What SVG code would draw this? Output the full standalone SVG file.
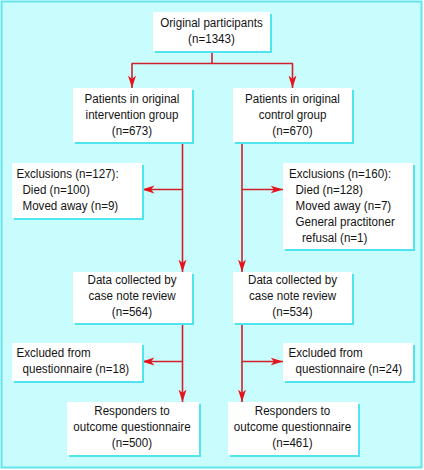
<svg xmlns="http://www.w3.org/2000/svg" width="424" height="470" viewBox="0 0 424 470">
<style>
.bx{fill:#ffffff}
.sh{fill:#4fe4ee}
text{font-family:"Liberation Sans",Arial,sans-serif;font-size:13.5px;fill:#141414;transform-box:fill-box;transform-origin:center;transform:scaleX(0.86)}
.c{text-anchor:middle}
.l{transform-origin:left center}
.ln{stroke:#d2202a;stroke-width:1.6;fill:none}
.ar{marker-end:url(#ah)}
</style>
<defs>
<marker id="ah" markerUnits="userSpaceOnUse" markerWidth="13" markerHeight="9" viewBox="0 0 13 9" refX="12.5" refY="4.5" orient="auto">
<path d="M0,0.5 L12.5,4.5 L0,8.5 L3.5,4.5 z" fill="#e8121c"/>
</marker>
</defs>
<rect x="1.5" y="1.5" width="420" height="466" fill="#c9fdfd" stroke="#62e4ec" stroke-width="2"/>
<g id="connectors">
<path class="ln" d="M212,51 V63.5 M131.5,63.5 H293"/>
<path class="ln ar" d="M132,63.5 V88"/>
<path class="ln ar" d="M292.5,63.5 V88"/>
<path class="ln ar" d="M182.5,142 V272"/>
<path class="ln ar" d="M182.5,189.5 H142"/>
<path class="ln ar" d="M182.5,323 V402"/>
<path class="ln ar" d="M182.5,361.5 H142"/>
<path class="ln ar" d="M242,142 V272"/>
<path class="ln ar" d="M242,189.5 H283"/>
<path class="ln ar" d="M242,323 V402"/>
<path class="ln ar" d="M242,361.5 H283"/>
</g>
<g id="n-original">
<rect class="sh" x="155" y="14" width="117" height="39"/>
<rect class="bx" x="153" y="12" width="117" height="39"/>
<text class="c" x="211.5" y="27.5">Original participants</text>
<text class="c" x="211.5" y="43.5">(n=1343)</text>
</g>
<g id="n-intervention">
<rect class="sh" x="75" y="90" width="119" height="54"/>
<rect class="bx" x="73" y="88" width="119" height="54"/>
<text class="c" x="132" y="103">Patients in original</text>
<text class="c" x="132" y="119">intervention group</text>
<text class="c" x="132" y="135">(n=673)</text>
</g>
<g id="n-control">
<rect class="sh" x="235" y="90" width="119" height="54"/>
<rect class="bx" x="233" y="88" width="119" height="54"/>
<text class="c" x="292.5" y="103">Patients in original</text>
<text class="c" x="292.5" y="119">control group</text>
<text class="c" x="292.5" y="135">(n=670)</text>
</g>
<g id="n-excl-left">
<rect class="sh" x="14" y="165" width="130" height="55"/>
<rect class="bx" x="12" y="163" width="130" height="55"/>
<text class="l" x="16.5" y="178">Exclusions (n=127):</text>
<text class="l" x="22.5" y="194">Died (n=100)</text>
<text class="l" x="22.5" y="210">Moved away (n=9)</text>
</g>
<g id="n-excl-right">
<rect class="sh" x="285" y="165" width="130" height="86"/>
<rect class="bx" x="283" y="163" width="130" height="86"/>
<text class="l" x="289" y="178">Exclusions (n=160):</text>
<text class="l" x="295.5" y="194">Died (n=128)</text>
<text class="l" x="295.5" y="210">Moved away (n=7)</text>
<text class="l" x="295.5" y="226">General practitoner</text>
<text class="l" x="302" y="242">refusal (n=1)</text>
</g>
<g id="n-data-left">
<rect class="sh" x="75" y="274" width="119" height="51"/>
<rect class="bx" x="73" y="272" width="119" height="51"/>
<text class="c" x="132" y="284">Data collected by</text>
<text class="c" x="132" y="300">case note review</text>
<text class="c" x="132" y="316">(n=564)</text>
</g>
<g id="n-data-right">
<rect class="sh" x="235" y="274" width="119" height="51"/>
<rect class="bx" x="233" y="272" width="119" height="51"/>
<text class="c" x="292.5" y="284">Data collected by</text>
<text class="c" x="292.5" y="300">case note review</text>
<text class="c" x="292.5" y="316">(n=534)</text>
</g>
<g id="n-exq-left">
<rect class="sh" x="14" y="345" width="130" height="38"/>
<rect class="bx" x="12" y="343" width="130" height="38"/>
<text class="l" x="16.5" y="357.5">Excluded from</text>
<text class="l" x="22.5" y="373.5">questionnaire (n=18)</text>
</g>
<g id="n-exq-right">
<rect class="sh" x="285" y="345" width="130" height="38"/>
<rect class="bx" x="283" y="343" width="130" height="38"/>
<text class="l" x="288.5" y="357.5">Excluded from</text>
<text class="l" x="295.5" y="373.5">questionnaire (n=24)</text>
</g>
<g id="n-resp-left">
<rect class="sh" x="69" y="404" width="132" height="53"/>
<rect class="bx" x="67" y="402" width="132" height="53"/>
<text class="c" x="132" y="415">Responders to</text>
<text class="c" x="132" y="431">outcome questionnaire</text>
<text class="c" x="132" y="447">(n=500)</text>
</g>
<g id="n-resp-right">
<rect class="sh" x="230" y="404" width="130" height="53"/>
<rect class="bx" x="228" y="402" width="130" height="53"/>
<text class="c" x="292.5" y="415">Responders to</text>
<text class="c" x="292.5" y="431">outcome questionnaire</text>
<text class="c" x="292.5" y="447">(n=461)</text>
</g>
</svg>
